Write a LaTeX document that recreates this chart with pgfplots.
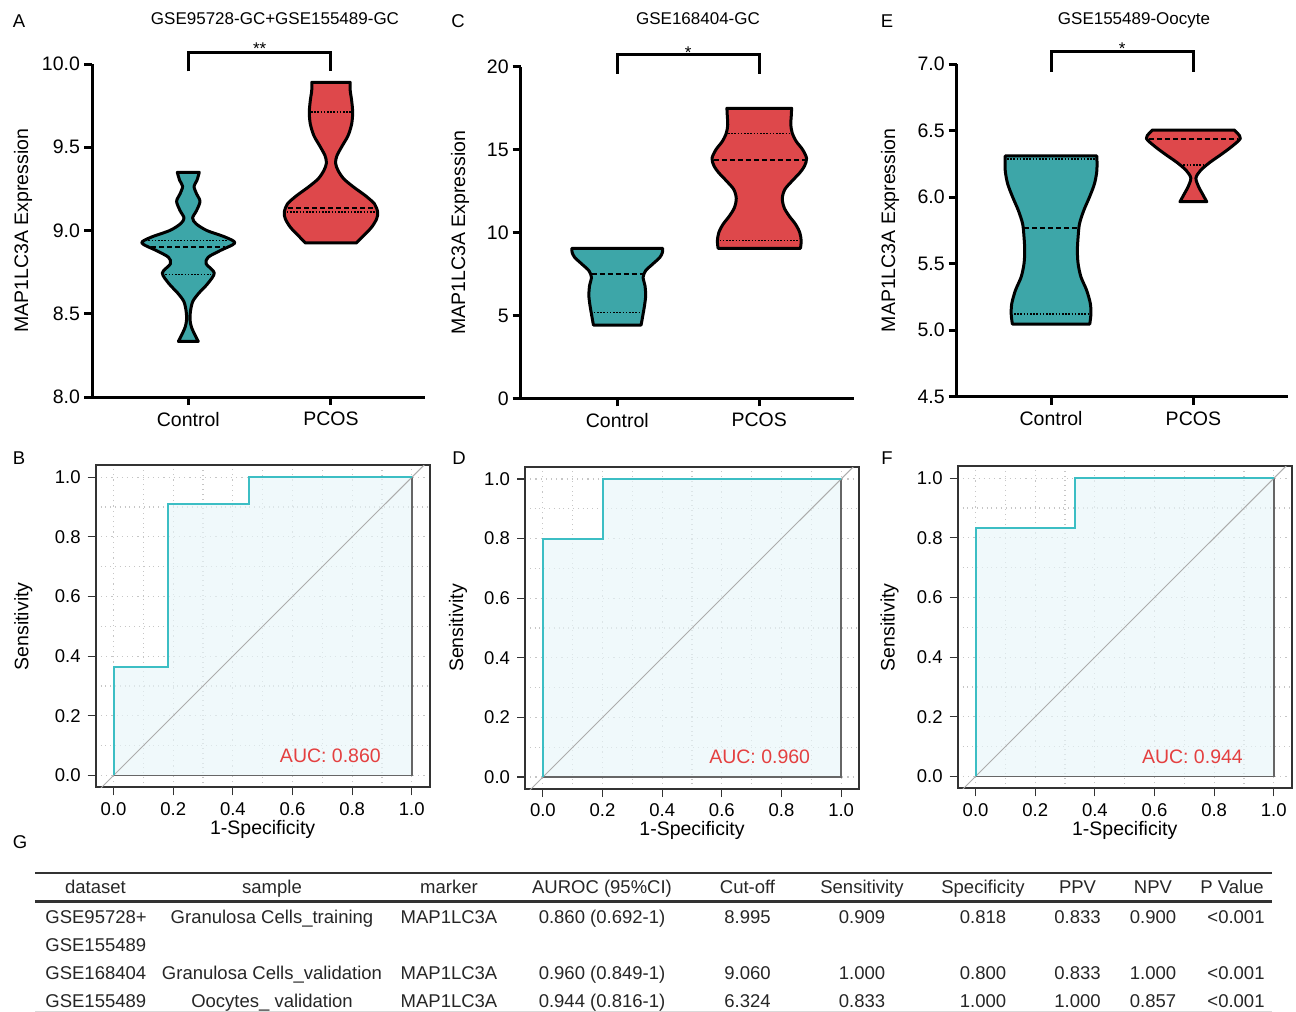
\documentclass[border=0pt]{standalone}
\usepackage{fontspec}
\setmainfont{Liberation Sans}
\usepackage{pgfplots}
\usepackage{pgfplotstable}
\pgfplotsset{compat=1.18}
\usepgfplotslibrary{fillbetween}

\definecolor{vteal}{RGB}{61,166,168}
\definecolor{vred}{RGB}{222,72,75}
\definecolor{roccol}{RGB}{60,190,196}
\definecolor{rocfill}{RGB}{232,246,249}
\definecolor{aucred}{RGB}{228,64,64}

% violin outlines: y value and half width (in category units)
\pgfplotstableread{
y w
8.334 0.070
8.37 0.048
8.42 0.022
8.465 0.012
8.52 0.016
8.575 0.032
8.625 0.075
8.68 0.135
8.745 0.182
8.80 0.125
8.84 0.14
8.88 0.225
8.925 0.326
8.96 0.26
9.00 0.13
9.04 0.055
9.075 0.03
9.12 0.058
9.175 0.082
9.22 0.058
9.265 0.04
9.30 0.06
9.349 0.077
}\vAc
\pgfplotstableread{
y w
8.925 0.178
8.97 0.23
9.02 0.285
9.07 0.32
9.11 0.327
9.16 0.305
9.21 0.24
9.26 0.16
9.31 0.09
9.36 0.05
9.405 0.032
9.45 0.042
9.51 0.08
9.57 0.12
9.64 0.145
9.71 0.152
9.78 0.145
9.84 0.135
9.89 0.134
}\vAp
\pgfplotstableread{
y w
4.42 0.168
5.0 0.18
5.6 0.192
6.2 0.2
6.8 0.195
7.3 0.182
7.7 0.2
8.1 0.25
8.5 0.3
8.8 0.318
9.045 0.32
}\vCc
\pgfplotstableread{
y w
9.045 0.29
9.5 0.295
10.0 0.285
10.5 0.255
11.0 0.21
11.5 0.175
12.06 0.162
12.6 0.18
13.1 0.23
13.6 0.285
14.0 0.318
14.47 0.333
15.0 0.305
15.5 0.26
16.0 0.232
16.5 0.222
17.0 0.225
17.49 0.228
}\vCp
\pgfplotstableread{
y w
5.046 0.272
5.12 0.28
5.2 0.276
5.3 0.25
5.4 0.21
5.5 0.19
5.6 0.185
5.7 0.19
5.8 0.2
5.9 0.23
6.0 0.27
6.1 0.305
6.2 0.322
6.309 0.322
}\vEc
\pgfplotstableread{
y w
5.965 0.094
6.02 0.066
6.08 0.036
6.143 0.018
6.2 0.05
6.26 0.115
6.32 0.195
6.38 0.27
6.44 0.33
6.48 0.31
6.504 0.287
}\vEp

\tikzset{auc/.style={text=aucred, font=\fontsize{9.75}{11}\selectfont}}
\pgfplotsset{
  violin/.style={scale only axis, anchor=south west,
    axis x line*=bottom, axis y line*=left,
    axis line style={line width=1.5pt},
    tick align=outside, major tick length=4pt,
    tick style={black, line width=1.5pt},
    xtick={1,2}, xticklabels={Control,PCOS},
    clip=false,
    /pgf/number format/assume math mode=true,
    yticklabel style={font=\fontsize{9.75}{11}\selectfont, xshift=1.5pt},
    xticklabel style={font=\fontsize{9.75}{11}\selectfont},
    ylabel={MAP1LC3A Expression},
    label style={font=\fontsize{9.75}{11}\selectfont}},
  vshape/.style={fill=#1, draw=black, line width=1.5pt, line join=round},
  med/.style={black, line width=1pt, dash pattern=on 2.5pt off 1.5pt},
  qrt/.style={black, line width=0.8pt, dash pattern=on 0.8pt off 0.8pt},
  oneplace/.style={yticklabel style={/pgf/number format/.cd, fixed, fixed zerofill, precision=1}},
  roc/.style={scale only axis, anchor=south west,
    width=167pt, height=161pt,
    xmin=-0.06, xmax=1.06, ymin=-0.04, ymax=1.04,
    xtick={0,0.2,0.4,0.6,0.8,1}, ytick={0,0.2,0.4,0.6,0.8,1},
    minor tick num=1, grid=both, minor tick length=0pt,
    grid style={dotted, line width=0.6pt, gray!45},
    major grid style={dotted, line width=0.6pt, gray!45},
    major tick length=4pt, tick align=outside,
    xtick pos=bottom, ytick pos=left,
    axis line style={line width=1pt, black!80},
    tick style={black!80, line width=0.6pt},
    /pgf/number format/assume math mode=true,
    ticklabel style={font=\fontsize{9.25}{10}\selectfont,
      /pgf/number format/.cd, fixed, fixed zerofill, precision=1},
    xlabel={1-Specificity}, ylabel={Sensitivity},
    xlabel style={at={(axis description cs:0.5,-0.13)}, anchor=center},
    label style={font=\fontsize{9.75}{11}\selectfont}},
  rocarea/.style={fill=rocfill, fill opacity=0.65, draw=black!60, draw opacity=1, line width=0.8pt},
}

\begin{document}
\begin{tikzpicture}
\begin{scope}[x=0.5pt, y=-0.5pt]
\useasboundingbox (0,0) rectangle (1296,1012);
\end{scope}

% ---------------- A ----------------
\begin{axis}[violin, oneplace, at={(46pt,-198.5pt)}, width=166.5pt, height=166.5pt,
  xmin=0.325, xmax=2.659, ymin=8, ymax=10, ytick={8,8.5,9,9.5,10},
  ylabel style={at={(axis description cs:-0.207,0.5)}, anchor=center}]
\addplot[draw=none, smooth, name path=acR] table[x expr=1+\thisrow{w}, y=y] {\vAc};
\addplot[draw=none, smooth, name path=acL] table[x expr=1-\thisrow{w}, y=y] {\vAc};
\addplot[vshape=vteal] fill between[of=acR and acL, reverse=true];
\addplot[draw=none, smooth, name path=apR] table[x expr=2+\thisrow{w}, y=y] {\vAp};
\addplot[draw=none, smooth, name path=apL] table[x expr=2-\thisrow{w}, y=y] {\vAp};
\addplot[vshape=vred] fill between[of=apR and apL, reverse=true];
\addplot[med] coordinates {(0.74,8.899) (1.26,8.899)};
\addplot[qrt] coordinates {(0.72,8.941) (1.28,8.941)};
\addplot[qrt] coordinates {(0.84,8.735) (1.16,8.735)};
\addplot[med] coordinates {(1.70,9.135) (2.30,9.135)};
\addplot[qrt] coordinates {(1.69,9.11) (2.31,9.11)};
\addplot[qrt] coordinates {(1.86,9.712) (2.14,9.712)};
\draw[line width=1.5pt] (axis cs:1,9.955) -- (axis cs:1,10.07) -- (axis cs:2,10.07) -- (axis cs:2,9.955);
\node[anchor=base, font=\fontsize{8.5}{10}\selectfont] at (axis cs:1.5,10.056) {**};
\end{axis}

% ---------------- C ----------------
\begin{axis}[violin, at={(260.35pt,-199.15pt)}, width=166.65pt, height=165.8pt,
  xmin=0.32, xmax=2.667, ymin=0, ymax=20, ytick={0,5,10,15,20},
  ylabel style={at={(axis description cs:-0.182,0.5)}, anchor=center}]
\addplot[draw=none, smooth, name path=ccR] table[x expr=1+\thisrow{w}, y=y] {\vCc};
\addplot[draw=none, smooth, name path=ccL] table[x expr=1-\thisrow{w}, y=y] {\vCc};
\addplot[vshape=vteal] fill between[of=ccR and ccL, reverse=true];
\addplot[draw=none, smooth, name path=cpR] table[x expr=2+\thisrow{w}, y=y] {\vCp};
\addplot[draw=none, smooth, name path=cpL] table[x expr=2-\thisrow{w}, y=y] {\vCp};
\addplot[vshape=vred] fill between[of=cpR and cpL, reverse=true];
\addplot[med] coordinates {(0.82,7.5) (1.18,7.5)};
\addplot[qrt] coordinates {(0.835,5.17) (1.165,5.17)};
\addplot[med] coordinates {(1.68,14.37) (2.32,14.37)};
\addplot[qrt] coordinates {(1.78,15.98) (2.22,15.98)};
\addplot[qrt] coordinates {(1.72,9.51) (2.28,9.51)};
\draw[line width=1.5pt] (axis cs:1,19.56) -- (axis cs:1,20.75) -- (axis cs:2,20.75) -- (axis cs:2,19.56);
\node[anchor=base, font=\fontsize{8.5}{10}\selectfont] at (axis cs:1.5,20.52) {*};
\end{axis}

% ---------------- E ----------------
\begin{axis}[violin, oneplace, at={(478.35pt,-198.35pt)}, width=165.65pt, height=166.35pt,
  xmin=0.337, xmax=2.665, ymin=4.5, ymax=7, ytick={4.5,5,5.5,6,6.5,7},
  ylabel style={at={(axis description cs:-0.201,0.5)}, anchor=center}]
\addplot[draw=none, smooth, name path=ecR] table[x expr=1+\thisrow{w}, y=y] {\vEc};
\addplot[draw=none, smooth, name path=ecL] table[x expr=1-\thisrow{w}, y=y] {\vEc};
\addplot[vshape=vteal] fill between[of=ecR and ecL, reverse=true];
\addplot[draw=none, smooth, name path=epR] table[x expr=2+\thisrow{w}, y=y] {\vEp};
\addplot[draw=none, smooth, name path=epL] table[x expr=2-\thisrow{w}, y=y] {\vEp};
\addplot[vshape=vred] fill between[of=epR and epL, reverse=true];
\addplot[med] coordinates {(0.81,5.767) (1.19,5.767)};
\addplot[qrt] coordinates {(0.74,5.12) (1.26,5.12)};
\addplot[qrt] coordinates {(0.69,6.286) (1.31,6.286)};
\addplot[med] coordinates {(1.69,6.436) (2.31,6.436)};
\addplot[qrt] coordinates {(1.93,6.24) (2.07,6.24)};
\draw[line width=1.5pt] (axis cs:1,6.942) -- (axis cs:1,7.092) -- (axis cs:2,7.092) -- (axis cs:2,6.942);
\node[anchor=base, font=\fontsize{8.5}{10}\selectfont] at (axis cs:1.5,7.068) {*};
\end{axis}

% ---------------- B ----------------
\begin{axis}[roc, at={(47.85pt,-393.65pt)},
  ylabel style={at={(axis description cs:-0.217,0.5)}, anchor=center}]
\addplot[rocarea] coordinates
  {(0,0) (0,0.364) (0.182,0.364) (0.182,0.909) (0.455,0.909) (0.455,1) (1,1) (1,0) (0,0)};
\addplot[gray!65, line width=0.5pt] coordinates {(-0.1,-0.1) (1.1,1.1)};
\addplot[roccol, line width=1pt] coordinates
  {(0,0) (0,0.364) (0.182,0.364) (0.182,0.909) (0.455,0.909) (0.455,1) (1,1)};
\node[auc] at (axis cs:0.727,0.067) {AUC: 0.860};
\end{axis}

% ---------------- D ----------------
\begin{axis}[roc, at={(262.5pt,-394.5pt)},
  ylabel style={at={(axis description cs:-0.2,0.5)}, anchor=center}]
\addplot[rocarea] coordinates
  {(0,0) (0,0.8) (0.2,0.8) (0.2,1) (1,1) (1,0) (0,0)};
\addplot[gray!65, line width=0.5pt] coordinates {(-0.1,-0.1) (1.1,1.1)};
\addplot[roccol, line width=1pt] coordinates
  {(0,0) (0,0.8) (0.2,0.8) (0.2,1) (1,1)};
\node[auc] at (axis cs:0.727,0.067) {AUC: 0.960};
\end{axis}

% ---------------- F ----------------
\begin{axis}[roc, at={(478.85pt,-394.15pt)},
  ylabel style={at={(axis description cs:-0.204,0.5)}, anchor=center}]
\addplot[rocarea] coordinates
  {(0,0) (0,0.833) (0.333,0.833) (0.333,1) (1,1) (1,0) (0,0)};
\addplot[gray!65, line width=0.5pt] coordinates {(-0.1,-0.1) (1.1,1.1)};
\addplot[roccol, line width=1pt] coordinates
  {(0,0) (0,0.833) (0.333,0.833) (0.333,1) (1,1)};
\node[auc] at (axis cs:0.727,0.067) {AUC: 0.944};
\end{axis}

% ---------------- titles, letters, table ----------------
\begin{scope}[x=0.5pt, y=-0.5pt]
\begin{scope}[every node/.style={anchor=base, font=\fontsize{9.25}{11}\selectfont}]
\node at (19,27.3) {A};
\node at (458,27.3) {C};
\node at (887,27.3) {E};
\node at (19,464) {B};
\node at (459,464) {D};
\node at (887,464) {F};
\node at (20,848.3) {G};
\end{scope}
\begin{scope}[every node/.style={anchor=base, font=\fontsize{8.5}{10}\selectfont}]
\node at (275,24.5) {GSE95728-GC+GSE155489-GC};
\node at (698,24.5) {GSE168404-GC};
\node at (1134,24.5) {GSE155489-Oocyte};
\end{scope}

\draw[line width=1pt, black!80] (35,873) -- (1272,873);
\draw[line width=1.3pt, black!80] (35,901.5) -- (1272,901.5);
\draw[line width=0.5pt, black!15] (35,1011) -- (1272,1011);
\begin{scope}[every node/.style={anchor=base, font=\fontsize{9.25}{11}\selectfont, text=black!85, inner sep=0pt}]
% header
\node at (95.5,893.5) {dataset};
\node at (272,893.5) {sample};
\node at (449,893.5) {marker};
\node at (602,893.5) {AUROC (95\%CI)};
\node at (747.5,893.5) {Cut-off};
\node at (862,893.5) {Sensitivity};
\node at (983,893.5) {Specificity};
\node at (1077.5,893.5) {PPV};
\node at (1153,893.5) {NPV};
\node at (1232,893.5) {P Value};
% row 1
\node[anchor=base west] at (45,923.5) {GSE95728+};
\node[anchor=base west] at (45,951) {GSE155489};
\node at (272,923.5) {Granulosa Cells\_training};
\node at (449,923.5) {MAP1LC3A};
\node at (602,923.5) {0.860 (0.692-1)};
\node at (747.5,923.5) {8.995};
\node at (862,923.5) {0.909};
\node at (983,923.5) {0.818};
\node at (1077.5,923.5) {0.833};
\node at (1153,923.5) {0.900};
\node at (1236,923.5) {<0.001};
% row 2
\node[anchor=base west] at (45,979.5) {GSE168404};
\node at (272,979.5) {Granulosa Cells\_validation};
\node at (449,979.5) {MAP1LC3A};
\node at (602,979.5) {0.960 (0.849-1)};
\node at (747.5,979.5) {9.060};
\node at (862,979.5) {1.000};
\node at (983,979.5) {0.800};
\node at (1077.5,979.5) {0.833};
\node at (1153,979.5) {1.000};
\node at (1236,979.5) {<0.001};
% row 3
\node[anchor=base west] at (45,1007) {GSE155489};
\node at (272,1007) {Oocytes\_ validation};
\node at (449,1007) {MAP1LC3A};
\node at (602,1007) {0.944 (0.816-1)};
\node at (747.5,1007) {6.324};
\node at (862,1007) {0.833};
\node at (983,1007) {1.000};
\node at (1077.5,1007) {1.000};
\node at (1153,1007) {0.857};
\node at (1236,1007) {<0.001};
\end{scope}
\end{scope}
\end{tikzpicture}
\end{document}
